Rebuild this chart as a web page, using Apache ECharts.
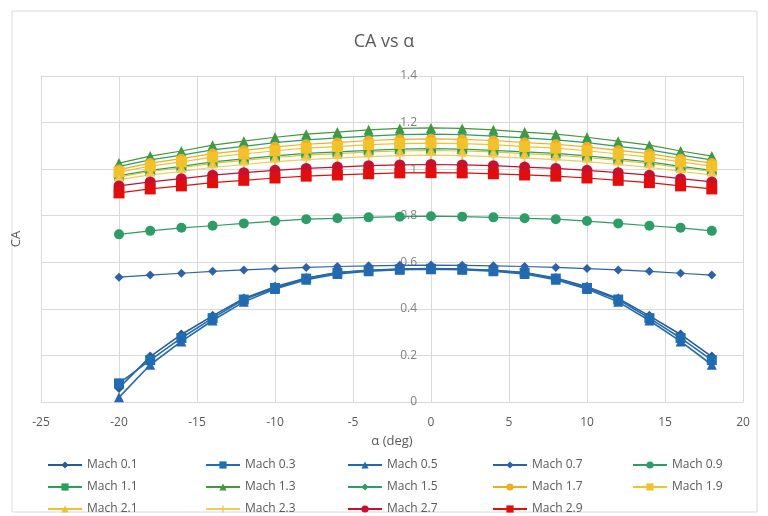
<!DOCTYPE html>
<html>
<head>
<meta charset="utf-8">
<script src="https://cdn.jsdelivr.net/npm/echarts@6/dist/echarts.min.js"></script>
<style>html,body{margin:0;padding:0;background:#fff}#c{width:768px;height:516px}</style>
</head>
<body>
<div id="c"></div>
<script>
// ---- data ----
const alpha = [-20,-18,-16,-14,-12,-10,-8,-6,-4,-2,0,2,4,6,8,10,12,14,16,18];
const seriesNames = ['Mach 0.1','Mach 0.3','Mach 0.5','Mach 0.7','Mach 0.9','Mach 1.1','Mach 1.3','Mach 1.5','Mach 1.7','Mach 1.9','Mach 2.1','Mach 2.3','Mach 2.7','Mach 2.9'];
const mach01 = [0.060,0.195,0.290,0.370,0.445,0.495,0.532,0.556,0.566,0.571,0.573,0.571,0.566,0.556,0.532,0.495,0.445,0.370,0.290,0.195];
const mach03 = [0.080,0.180,0.275,0.360,0.440,0.490,0.530,0.555,0.565,0.570,0.572,0.570,0.565,0.555,0.530,0.490,0.440,0.360,0.275,0.180];
const mach05 = [0.020,0.160,0.260,0.350,0.430,0.485,0.525,0.550,0.562,0.568,0.570,0.568,0.562,0.550,0.525,0.485,0.430,0.350,0.260,0.160];
const mach07 = [0.536,0.545,0.553,0.561,0.567,0.573,0.578,0.582,0.585,0.587,0.588,0.587,0.585,0.582,0.578,0.573,0.567,0.561,0.553,0.545];
const mach09 = [0.720,0.735,0.748,0.757,0.767,0.777,0.785,0.789,0.793,0.796,0.798,0.796,0.793,0.789,0.785,0.777,0.767,0.757,0.748,0.735];
const mach11 = [0.972,0.995,1.012,1.031,1.044,1.057,1.068,1.074,1.081,1.086,1.088,1.086,1.081,1.074,1.068,1.057,1.044,1.031,1.012,0.995];
const mach13 = [1.026,1.056,1.078,1.103,1.120,1.137,1.150,1.159,1.169,1.175,1.177,1.175,1.169,1.159,1.150,1.137,1.120,1.103,1.078,1.056];
const mach15 = [1.012,1.040,1.060,1.083,1.098,1.114,1.126,1.134,1.142,1.148,1.150,1.148,1.142,1.134,1.126,1.114,1.098,1.083,1.060,1.040];
const mach17 = [0.998,1.026,1.045,1.067,1.081,1.096,1.107,1.114,1.123,1.128,1.130,1.128,1.123,1.114,1.107,1.096,1.081,1.067,1.045,1.026];
const mach19 = [0.987,1.013,1.031,1.052,1.065,1.079,1.090,1.097,1.105,1.110,1.112,1.110,1.105,1.097,1.090,1.079,1.065,1.052,1.031,1.013];
const mach21 = [0.967,0.990,1.006,1.025,1.038,1.050,1.060,1.067,1.074,1.078,1.080,1.078,1.074,1.067,1.060,1.050,1.038,1.025,1.006,0.990];
const mach23 = [0.955,0.975,0.990,1.008,1.020,1.032,1.041,1.047,1.054,1.058,1.060,1.058,1.054,1.047,1.041,1.032,1.020,1.008,0.990,0.975];
const mach27 = [0.928,0.945,0.959,0.974,0.985,0.995,1.003,1.009,1.015,1.018,1.020,1.018,1.015,1.009,1.003,0.995,0.985,0.974,0.959,0.945];
const mach29 = [0.898,0.915,0.928,0.942,0.952,0.962,0.970,0.975,0.980,0.984,0.985,0.984,0.980,0.975,0.970,0.962,0.952,0.942,0.928,0.915];
const xTicks = {min:-25, max:20, interval:5};
const yTicks = {min:0, max:1.4, interval:0.2};

// ---- styling ----
const plus = 'path://M4,0H6V4H10V6H6V10H4V6H0V4H4Z';
const styles = [
  {c:'#2A5A94', s:'diamond', z:10, w:1.6},
  {c:'#1F6DB3', s:'rect', z:10, w:1.6},
  {c:'#2469AE', s:'triangle', z:10, w:1.6},
  {c:'#2D62A6', s:'diamond', z:9, w:1.2},
  {c:'#2E9C66', s:'circle', z:10, w:1.2},
  {c:'#27A05A', s:'rect', z:10, w:1.2},
  {c:'#43983A', s:'triangle', z:10, w:1.2},
  {c:'#2A9E64', s:'diamond', z:9, w:1.2},
  {c:'#F0AE1E', s:'circle', z:10, w:1.2},
  {c:'#F3C12C', s:'rect', z:11, w:1.2},
  {c:'#E9C132', s:'triangle', z:10, w:1.2},
  {c:'#EDCB5C', s:plus, z:9, w:1.2},
  {c:'#C8102E', s:'circle', z:11, w:1.2},
  {c:'#E10E0E', s:'rect', z:11, w:1.2}
];
const values = [mach01,mach03,mach05,mach07,mach09,mach11,mach13,mach15,mach17,mach19,mach21,mach23,mach27,mach29];

const series = seriesNames.map((n, k) => ({
  name: n,
  type: 'line',
  data: alpha.map((a, i) => [a, values[k][i]]),
  symbol: styles[k].s,
  symbolSize: styles[k].z,
  showSymbol: true,
  lineStyle: {color: styles[k].c, width: styles[k].w},
  itemStyle: {color: styles[k].c},
  emphasis: {disabled: true},
  animation: false
}));

const colX = [42, 200, 342, 487, 627];
const rowY = [454, 476, 498];
const legends = seriesNames.map((n, k) => ({
  data: [n],
  left: colX[k % 5],
  top: rowY[Math.floor(k / 5)],
  itemWidth: 34,
  itemHeight: 9,
  itemGap: 4,
  textStyle: {color: '#595959', fontSize: 12, fontFamily: 'Open Sans'},
  selectedMode: false
}));

const gridLeft = 41;
const chart = echarts.init(document.getElementById('c'));
const baseOption = {
  animation: false,
  backgroundColor: '#fff',
  title: {
    text: 'CA vs α',
    left: 'center',
    top: 28,
    textStyle: {color: '#595959', fontSize: 18, fontWeight: 'normal', fontFamily: 'Open Sans'}
  },
  graphic: [{
    type: 'rect', shape: {x: 12, y: 11, width: 745, height: 501},
    style: {fill: 'none', stroke: '#d9d9d9', lineWidth: 1}, silent: true, z: -10
  }],
  legend: legends,
  grid: {left: gridLeft, right: 25, top: 76, bottom: 114, containLabel: false},
  xAxis: {
    type: 'value', min: xTicks.min, max: xTicks.max, interval: xTicks.interval,
    name: 'α (deg)', nameLocation: 'middle', nameGap: 33,
    nameTextStyle: {color: '#595959', fontSize: 13, fontFamily: 'Open Sans'},
    axisLine: {show: true, onZero: false, lineStyle: {color: '#d9d9d9'}},
    axisTick: {show: false},
    axisLabel: {color: '#595959', fontSize: 12, margin: 15, fontFamily: 'Open Sans'},
    splitLine: {show: true, lineStyle: {color: '#d9d9d9', width: 1}}
  },
  yAxis: [{
    type: 'value', min: yTicks.min, max: yTicks.max, interval: yTicks.interval,
    name: 'CA', nameLocation: 'middle', nameRotate: 90, nameGap: 18,
    nameTextStyle: {color: '#595959', fontSize: 13, fontFamily: 'Open Sans'},
    axisLine: {show: false, onZero: false},
    axisTick: {show: false},
    axisLabel: {show: false},
    splitLine: {show: true, lineStyle: {color: '#d9d9d9', width: 1}}
  }, {
    type: 'value', min: yTicks.min, max: yTicks.max, interval: yTicks.interval,
    position: 'left', offset: 0,
    axisLine: {show: false, onZero: false},
    axisTick: {show: false},
    axisLabel: {color: '#7f7f7f', fontSize: 12, margin: 14, fontFamily: 'Open Sans'},
    splitLine: {show: false}
  }],
  series: series
};
chart.setOption(baseOption);
// place the label axis where the vertical axis crosses x = 0 (Excel-style)
const zeroPx = chart.convertToPixel({xAxisIndex: 0}, 0);
chart.setOption({yAxis: [{}, {offset: -(zeroPx - gridLeft)}]});
</script>
</body>
</html>
